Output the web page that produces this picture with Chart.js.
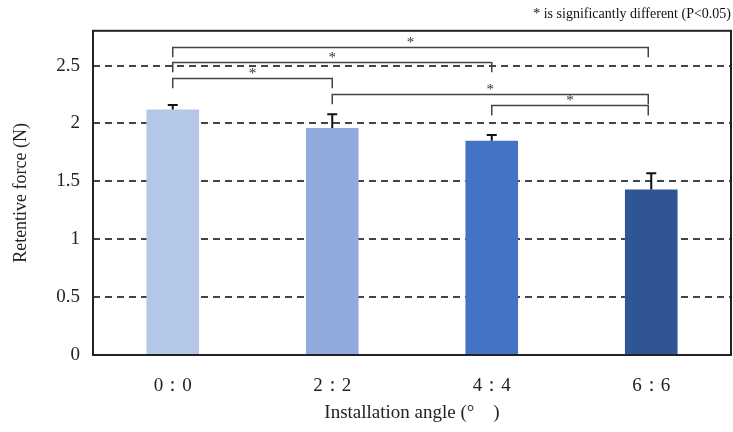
<!DOCTYPE html>
<html>
<head>
<meta charset="utf-8">
<script src="https://cdn.jsdelivr.net/npm/chart.js@4/dist/chart.umd.min.js"></script>
<style>
  body { margin: 0; background: #fff; }
  #wrap { width: 733px; height: 432px; }
</style>
</head>
<body>
<div id="wrap"><canvas id="myChart"></canvas></div>
<script>
// datos
const angles = ["0\uFF1A0", "2\uFF1A2", "4\uFF1A4", "6\uFF1A6"];
const force = [2.12, 1.96, 1.85, 1.43];
const forceSD = [0.04, 0.12, 0.05, 0.14];
const barColors = ["#b4c7e7", "#8faadc", "#4472c4", "#2f5597"];
// comparaciones significativas: [desde, hasta, altura]
const sigFrom = [0, 0, 0, 1, 2];
const sigTo = [3, 2, 1, 3, 3];
const sigLevel = [2.656, 2.526, 2.388, 2.25, 2.154];

const serif = "'Liberation Serif', 'DejaVu Serif', serif";

// barras de error y corchetes
const extras = {
    id: 'extras',
    afterDatasetsDraw(chart) {
        const c = chart.ctx;
        const y = chart.scales.y;
        const x = chart.scales.x;
        const bars = chart.getDatasetMeta(0).data;
        c.save();
        c.strokeStyle = '#111';
        c.lineWidth = 2;
        bars.forEach((b, i) => {
            const top = y.getPixelForValue(force[i] + forceSD[i]);
            c.beginPath();
            c.moveTo(b.x, b.y);
            c.lineTo(b.x, top);
            c.moveTo(b.x - 5, top);
            c.lineTo(b.x + 5, top);
            c.stroke();
        });
        c.strokeStyle = '#444';
        c.lineWidth = 1.5;
        c.fillStyle = '#333';
        c.font = '15px ' + serif;
        c.textAlign = 'center';
        c.textBaseline = 'bottom';
        for (let k = 0; k < sigFrom.length; k++) {
            const x1 = x.getPixelForValue(sigFrom[k]);
            const x2 = x.getPixelForValue(sigTo[k]) - (sigTo[k] === 3 ? 3 : 0);
            const yt = y.getPixelForValue(sigLevel[k]);
            const yb = y.getPixelForValue(sigLevel[k] - 0.085);
            c.beginPath();
            c.moveTo(x1, yb);
            c.lineTo(x1, yt);
            c.lineTo(x2, yt);
            c.lineTo(x2, yb);
            c.stroke();
            c.fillText('*', (x1 + x2) / 2, yt + 3);
        }
        // marco
        const a = chart.chartArea;
        c.strokeStyle = '#222';
        c.lineWidth = 2;
        c.strokeRect(a.left, a.top, a.right - a.left, a.bottom - a.top);
        c.restore();
    }
};

let ctx = document.getElementById('myChart');

let myChart = new Chart(ctx, {
    type: 'bar',
    data: {
        labels: angles,
        datasets: [{
            data: force,
            backgroundColor: barColors,
            borderWidth: 0,
            barPercentage: 0.33,
            categoryPercentage: 1
        }]
    },
    options: {
        responsive: true,
        maintainAspectRatio: false,
        animation: false,
        layout: { padding: { left: 0, right: 2, top: 0, bottom: 0 } },
        plugins: {
            legend: { display: false },
            tooltip: { enabled: false },
            title: {
                display: true,
                text: '* is significantly different (P<0.05)',
                align: 'end',
                color: '#111',
                font: { family: serif, size: 14, weight: 'normal' },
                padding: { top: 6, bottom: 8 }
            }
        },
        scales: {
            x: {
                offset: true,
                grid: { display: false },
                border: { display: false },
                ticks: {
                    color: '#222',
                    font: { family: serif, size: 19 },
                    padding: 12
                },
                title: {
                    display: true,
                    text: 'Installation angle (\u00B0\u3000)',
                    color: '#222',
                    font: { family: serif, size: 19 },
                    padding: { top: 4, bottom: 8 }
                },
                afterFit(s) { s.height = 77; }
            },
            y: {
                min: 0,
                max: 2.8,
                border: { display: false },
                grid: {
                    color: (g) => g.tick && g.tick.value === 0 ? 'rgba(0,0,0,0)' : '#444',
                    lineWidth: 2,
                    drawTicks: false
                },
                ticks: {
                    stepSize: 0.5,
                    includeBounds: false,
                    color: '#222',
                    padding: 13,
                    font: { family: serif, size: 19 },
                    callback: (v) => String(v)
                },
                title: {
                    display: true,
                    text: 'Retentive force (N)',
                    color: '#222',
                    font: { family: serif, size: 18 },
                    padding: { top: 10, bottom: 0 }
                },
                afterFit(s) { s.width = 93; }
            }
        }
    },
    plugins: [extras]
});
// líneas punteadas
myChart.options.scales.y.grid.borderDash = [7, 5];
myChart.options.scales.y.border.dash = [7, 5];
myChart.update();
</script>
</body>
</html>
